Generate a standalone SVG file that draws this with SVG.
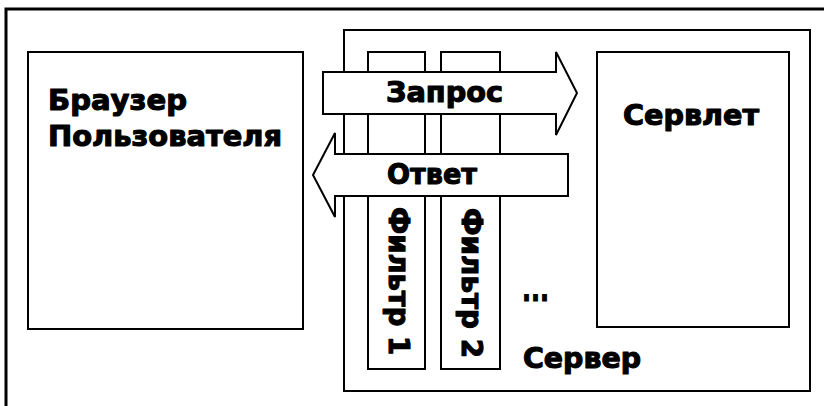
<svg xmlns="http://www.w3.org/2000/svg" width="824" height="406" viewBox="0 0 824 406">
  <style>
    .box { fill: #fff; stroke: #000; stroke-width: 2; }
    .frame { fill: none; stroke: #000; stroke-width: 3; }
    .arrow { fill: #fff; stroke: #000; stroke-width: 2; stroke-linejoin: miter; }
    .t { font-family: "DejaVu Sans", "Liberation Sans", sans-serif; font-weight: bold; font-size: 28px; fill: #000; stroke: #000; stroke-width: 1.1; stroke-linejoin: round; }
  </style>
  <rect x="0" y="0" width="824" height="406" fill="#fff"/>
  <path class="frame" d="M6,406 V9 H824"/>

  <g id="server">
    <rect class="box" x="344" y="30" width="466" height="361"/>
    <text class="t" x="523" y="368" textLength="118" lengthAdjust="spacingAndGlyphs">Сервер</text>
    <text class="t" x="522" y="301" style="font-size:34px" textLength="27" lengthAdjust="spacingAndGlyphs">...</text>
  </g>

  <g id="browser">
    <rect class="box" x="28" y="52" width="275" height="277"/>
    <text class="t" x="48" y="110" textLength="139" lengthAdjust="spacingAndGlyphs">Браузер</text>
    <text class="t" x="48" y="146" textLength="234" lengthAdjust="spacingAndGlyphs">Пользователя</text>
  </g>

  <g id="servlet">
    <rect class="box" x="597" y="52" width="192" height="275"/>
    <text class="t" x="623" y="125" textLength="136" lengthAdjust="spacingAndGlyphs">Сервлет</text>
  </g>

  <g id="filter1">
    <rect class="box" x="368" y="52" width="57" height="317"/>
    <text class="t" transform="translate(389,207) rotate(90)" x="0" y="0" textLength="148" lengthAdjust="spacingAndGlyphs">Фильтр 1</text>
  </g>

  <g id="filter2">
    <rect class="box" x="441" y="52" width="59" height="317"/>
    <text class="t" transform="translate(462,208) rotate(90)" x="0" y="0" textLength="150" lengthAdjust="spacingAndGlyphs">Фильтр 2</text>
  </g>

  <g id="connectors">
    <g id="request">
      <path class="arrow" d="M323,72 H556 V52 L577,93 L556,135 V114 H323 Z"/>
      <text class="t" x="386" y="102" textLength="117" lengthAdjust="spacingAndGlyphs">Запрос</text>
    </g>
    <g id="response">
      <path class="arrow" d="M568,154 H335 V133 L313,175 L335,217 V196 H568 Z"/>
      <text class="t" x="387" y="184" textLength="90" lengthAdjust="spacingAndGlyphs">Ответ</text>
    </g>
  </g>
</svg>
